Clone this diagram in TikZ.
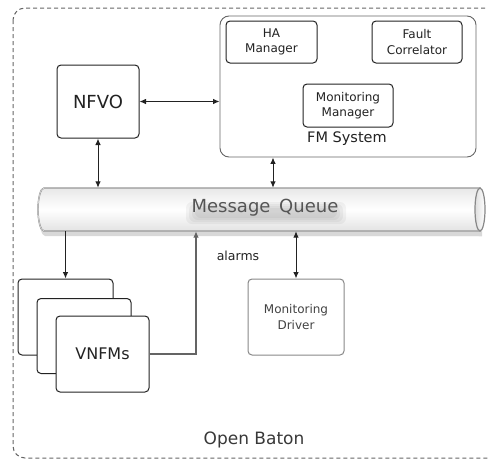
\documentclass[tikz,border=0pt]{standalone}
\usepackage{fontspec}
\setmainfont{DejaVu Sans}
\usetikzlibrary{arrows.meta}
\definecolor{ink}{HTML}{222222}
\definecolor{frame}{HTML}{666666}
\definecolor{soft}{HTML}{888888}
\definecolor{qtext}{HTML}{555555}
\newcommand{\fs}[2]{\fontsize{#1}{#2}\selectfont}
\tikzset{
  box/.style={draw=ink, line width=1pt, rounded corners=4pt, fill=white,
    text=ink, align=center, inner sep=0pt},
  greybox/.style={box, draw=soft, text=ink!85},
  conn/.style={draw=ink, line width=1pt},
  tip/.style={-{Latex[length=6.5pt,width=5.5pt]}},
  both/.style={{Latex[length=6.5pt,width=5.5pt]}-{Latex[length=6.5pt,width=5.5pt]}},
  glow/.style={fill=black, opacity=0.045, rounded corners=6pt},
}
\begin{document}
\begin{tikzpicture}[x=1pt, y=-1pt]
\useasboundingbox (0,0) rectangle (488,461);

% outer Open Baton frame
\draw[frame, dash pattern=on 4pt off 3pt, line width=1pt, rounded corners=12pt]
  (13,8) rectangle (520,458);
\node[text=ink!90, font=\fs{17}{20}] (ob) at (254,440) {Open Baton};

% NFVO
\node[box, minimum width=82pt, minimum height=73pt, font=\fs{18}{20}] (nfvo) at (98,101.5) {NFVO};

% FM system with its components
\node[box, draw=frame, line width=0.9pt, rounded corners=9pt, minimum width=256pt, minimum height=141pt] (fm) at (348,86.5) {};
\node[box, minimum width=91pt, minimum height=42pt, font=\fs{12}{15.5}] (ha) at (271.5,42) {HA\\Manager};
\node[box, minimum width=90pt, minimum height=42pt, font=\fs{12}{15.5}] (fc) at (417,42) {Fault\\Correlator};
\node[box, minimum width=90pt, minimum height=43pt, font=\fs{12}{15.5}] (mm) at (348,105.5) {Monitoring\\Manager};
\node[text=ink, font=\fs{14.5}{17}] (fml) at (347,139) {FM System};

% message queue drawn as a horizontal cylinder
\node[minimum width=447pt, minimum height=43pt, inner sep=0pt] (mq) at (261.5,209.5) {};
\fill[black, opacity=0.10] (482,193) -- (45,193) arc[start angle=90, end angle=270, x radius=6pt, y radius=21.5pt] -- (482,236) -- cycle;
\fill[black, opacity=0.06] (482,191) -- (45,191) arc[start angle=90, end angle=270, x radius=6pt, y radius=22.5pt] -- (482,236.5) -- cycle;
\shade[top color=gray!18, bottom color=gray!22, middle color=white, draw=soft, line width=1.4pt]
  (480,188) -- (44,188) arc[start angle=90, end angle=270, x radius=6pt, y radius=21.5pt] -- (480,231) -- cycle;
\draw[white, line width=0.4pt]
  (480,188) -- (44,188) arc[start angle=90, end angle=270, x radius=6pt, y radius=21.5pt] -- (480,231);
\shade[left color=gray!25, right color=white, draw=soft, line width=1.2pt] (480,209.5) ellipse[x radius=5pt, y radius=21.5pt];
% soft glow under the queue label
\foreach \w/\h in {80/11, 77/9, 74/7, 71/5}
  \fill[glow] (266-\w,213-\h) rectangle (266+\w,213+\h);
\node[text=qtext, font=\fs{18}{20}] (mql) at (265,208) {Message\, Queue};

% VNFM stack
\node[box, minimum width=95pt, minimum height=76pt] (vb) at (65.5,317) {};
\node[box, minimum width=94pt, minimum height=75pt] (vm) at (84,336) {};
\node[box, minimum width=93pt, minimum height=76pt, font=\fs{16}{18}] (vf) at (102.5,354) {VNFMs};

% monitoring driver
\node[greybox, minimum width=96pt, minimum height=76pt, font=\fs{12}{15.5}] (md) at (296,317) {Monitoring\\Driver};

% connectors
\draw[conn, both] (nfvo.east) -- (nfvo.east -| fm.west);
\draw[conn, both] (nfvo.south) -- (nfvo.south |- mq.north);
\draw[conn, both] ([xshift=-75pt]fm.south) -- ([xshift=-75pt]fm.south |- mq.north);
\draw[conn, tip] (mq.south -| vb.north) -- (vb.north);
\draw[conn, draw=ink!70, line width=1.2pt, tip] (vf.east) -| ([xshift=-65.5pt]mq.south);
\draw[conn, both] (mq.south -| md.north) -- (md.north);
\node[text=ink, font=\fs{12.5}{15}] (al) at (238,256) {alarms};
\end{tikzpicture}
\end{document}
